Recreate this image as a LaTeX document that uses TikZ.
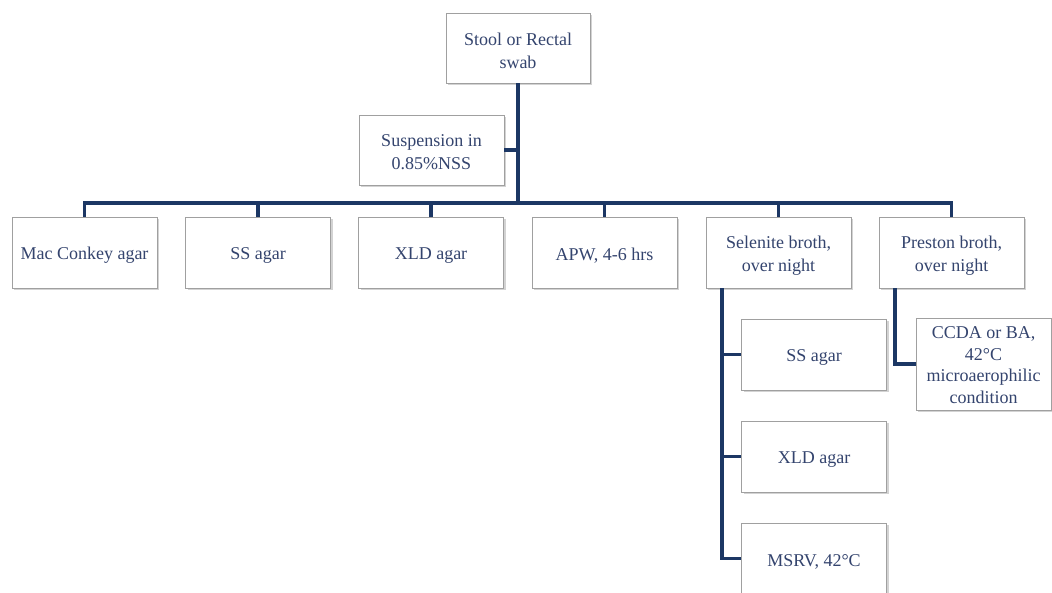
\documentclass[tikz,border=0pt]{standalone}
\usepackage{fontspec}
\setmainfont{Liberation Serif}
\usetikzlibrary{shadows}
\definecolor{txtblue}{RGB}{52,68,110}
\definecolor{linknavy}{RGB}{28,55,100}
\definecolor{boxgray}{RGB}{160,160,160}
\begin{document}
\begin{tikzpicture}[x=1pt,y=-1pt,
  box/.style={draw=boxgray, line width=0.8pt, fill=white,
    drop shadow={shadow xshift=2pt, shadow yshift=-2pt, opacity=0.35, fill=gray},
    minimum width=145pt, minimum height=71pt, inner sep=0pt},
  lbl/.style={inner sep=0pt, align=center, text=txtblue,
    font=\fontsize{18}{23}\selectfont},
  link/.style={draw=linknavy, line width=3.6pt}]
\useasboundingbox (0,0) rectangle (1052,592);

% specimen and suspension
\node[box, minimum width=144pt, minimum height=70pt] (top) at (518,48) {};
\node[box, minimum height=70pt] (susp) at (431.5,150) {};

% primary media row
\node[box] (r1) at (84.5,252.5) {};
\node[box] (r2) at (258,252.5) {};
\node[box] (r3) at (431,252.5) {};
\node[box] (r4) at (604.5,252.5) {};
\node[box] (r5) at (778.5,252.5) {};
\node[box] (r6) at (951.5,252.5) {};

% subcultures from selenite broth
\node[box] (s1) at (814,354.5) {};
\node[box] (s2) at (814,456.5) {};
\node[box] (s3) at (814,558.5) {};

% campylobacter plate
\node[box, minimum width=135pt, minimum height=92pt] (cc) at (983.5,364) {};

% box texts, set a little below the geometric centre
\node[lbl] (topt) at ([yshift=-2.5pt]top.center) {Stool or Rectal\\swab};
\node[lbl] (suspt) at ([yshift=-2.5pt]susp.center) {Suspension in\\0.85\%NSS};
\node[lbl] (r1t) at ([yshift=-3pt]r1.center) {Mac Conkey agar};
\node[lbl] (r2t) at ([yshift=-3pt]r2.center) {SS agar};
\node[lbl] (r3t) at ([yshift=-3pt]r3.center) {XLD agar};
\node[lbl] (r4t) at ([yshift=-3pt]r4.center) {APW, 4-6 hrs};
\node[lbl] (r5t) at ([yshift=-3pt]r5.center) {Selenite broth,\\over night};
\node[lbl] (r6t) at ([yshift=-3pt]r6.center) {Preston broth,\\over night};
\node[lbl] (s1t) at ([yshift=-3pt]s1.center) {SS agar};
\node[lbl] (s2t) at ([yshift=-3pt]s2.center) {XLD agar};
\node[lbl] (s3t) at ([yshift=-3pt]s3.center) {MSRV, 42°C};
\node[lbl, font=\fontsize{18}{21.5}\selectfont] (cct) at ([yshift=-1pt]cc.center)
  {CCDA or BA,\\42°C\\microaerophilic\\condition};

% connectors
\coordinate (bar) at (518,203);
\coordinate (selx) at (722,288);
\coordinate (prx) at (895,288);
\draw[link] (top.south) -- (top.south |- bar);
\draw[link] (susp.east) -- (susp.east -| top.south);
\draw[link] (r1.north) |- (bar) -| (r6.north);
\foreach \n in {r2,r3,r4,r5}
  \draw[link] (\n.north |- bar) -- (\n.north);
\draw[link] (selx) |- (s3.west);
\draw[link] (selx |- s1.west) -- (s1.west);
\draw[link] (selx |- s2.west) -- (s2.west);
\draw[link] (prx) |- (cc.west);
\end{tikzpicture}
\end{document}
